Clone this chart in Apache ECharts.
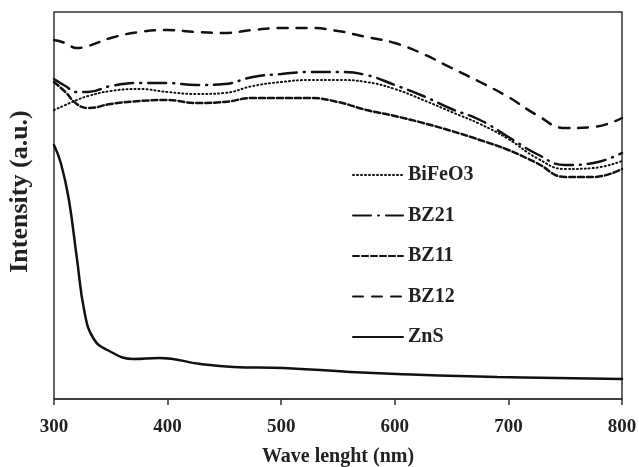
<!DOCTYPE html>
<html>
<head>
<meta charset="utf-8">
<script src="https://cdn.jsdelivr.net/npm/echarts@6/dist/echarts.min.js"></script>
<style>
    html, body { margin: 0; padding: 0; background: #fff; }
    #divChart { width: 639px; height: 467px; }
</style>
</head>
<body>
<div id="divChart"></div>
<script>
// wavelength grid for the four composite spectra
var waves = [300, 310, 320, 330, 350, 375, 400, 425, 450, 475, 500, 525, 550, 575, 600, 625, 650, 675, 700, 725, 750, 775, 800];
var bz12 = [359, 356, 351, 353, 361, 367, 369, 367, 366, 369, 371, 371, 368, 362, 356, 345, 331, 317, 302, 284, 271, 272, 281];
var bz21 = [320, 313, 307, 307, 313, 316, 316, 314, 315, 322, 325, 327, 327, 324, 314, 303, 290, 279, 262, 245, 234, 236, 246];
var bifeo3 = [289, 294, 299, 303, 308, 310, 307, 305, 306, 313, 317, 319, 319, 317, 310, 299, 287, 275, 260, 241, 230, 231, 238];
var bz11 = [317, 307, 295, 291, 295, 298, 299, 296, 297, 301, 301, 301, 297, 289, 283, 276, 268, 259, 249, 236, 222, 222, 230];

// ZnS has its own sampling (steep edge near 300-340 nm)
var znsWaves = [300, 306, 313, 320, 327, 335, 347, 370, 393, 429, 458, 502, 561, 602, 690, 800];
var zns = [254, 236, 200, 142, 86, 60, 49, 40, 41, 35, 32, 31, 27, 25, 22, 20];

var xTicks = [300, 400, 500, 600, 700, 800];

var serif = '"Liberation Serif", "Times New Roman", serif';

function pairs(xs, ys) {
    var out = [];
    for (var i = 0; i < xs.length; i++) {
        out.push([xs[i], ys[i]]);
    }
    return out;
}

function lineSeries(name, xs, ys, dash, width) {
    return {
        name: name,
        type: 'line',
        data: pairs(xs, ys),
        smooth: 0.45,
        symbol: 'none',
        itemStyle: { color: '#111' },
        lineStyle: {
            color: '#111',
            width: width,
            type: dash,
            cap: 'round'
        }
    };
}

var myChart = echarts.init(document.getElementById('divChart'));

var option = {
    animation: false,
    grid: {
        left: 54,
        right: 17,
        top: 12,
        bottom: 68,
        outerBoundsMode: 'none',
        containLabel: false,
        show: true,
        borderColor: '#333',
        borderWidth: 1.5
    },
    legend: {
        orient: 'vertical',
        left: 352,
        top: 165,
        padding: 0,
        itemWidth: 50,
        itemHeight: 14,
        itemGap: 20.5,
        itemStyle: { opacity: 0 },
        data: ['BiFeO3', 'BZ21', 'BZ11', 'BZ12', 'ZnS'],
        textStyle: {
            fontFamily: serif,
            fontWeight: 'bold',
            fontSize: 20,
            lineHeight: 20,
            color: '#222'
        }
    },
    xAxis: {
        type: 'value',
        min: 300,
        max: 800,
        interval: 100,
        name: 'Wave lenght (nm)',
        nameLocation: 'middle',
        nameGap: 48,
        nameTextStyle: {
            fontFamily: serif,
            fontWeight: 'bold',
            fontSize: 20,
            color: '#222'
        },
        axisLine: { lineStyle: { color: '#333', width: 1.5 } },
        axisTick: { inside: false, length: 6, lineStyle: { color: '#333', width: 1.5 } },
        axisLabel: {
            margin: 19,
            fontFamily: serif,
            fontWeight: 'bold',
            fontSize: 19,
            color: '#222',
            formatter: function(v) {
                return xTicks.indexOf(v) >= 0 ? String(v) : '';
            }
        },
        splitLine: { show: false }
    },
    yAxis: {
        type: 'value',
        min: 0,
        max: 387,
        name: 'Intensity (a.u.)',
        nameLocation: 'middle',
        nameGap: 21,
        nameRotate: 90,
        nameTextStyle: {
            fontFamily: serif,
            fontWeight: 'bold',
            fontSize: 26,
            color: '#222',
            padding: [0, 0, 0, 28]
        },
        axisLine: { show: false },
        axisTick: { show: false },
        axisLabel: { show: false },
        splitLine: { show: false }
    },
    series: [
        lineSeries('BiFeO3', waves, bifeo3, [1, 3], 2),
        lineSeries('BZ21', waves, bz21, [18, 7, 1, 7], 2.5),
        lineSeries('BZ11', waves, bz11, [6, 3], 2.5),
        lineSeries('BZ12', waves, bz12, [10, 9], 2.5),
        lineSeries('ZnS', znsWaves, zns, 'solid', 2.5)
    ]
};

myChart.setOption(option);
</script>
</body>
</html>
